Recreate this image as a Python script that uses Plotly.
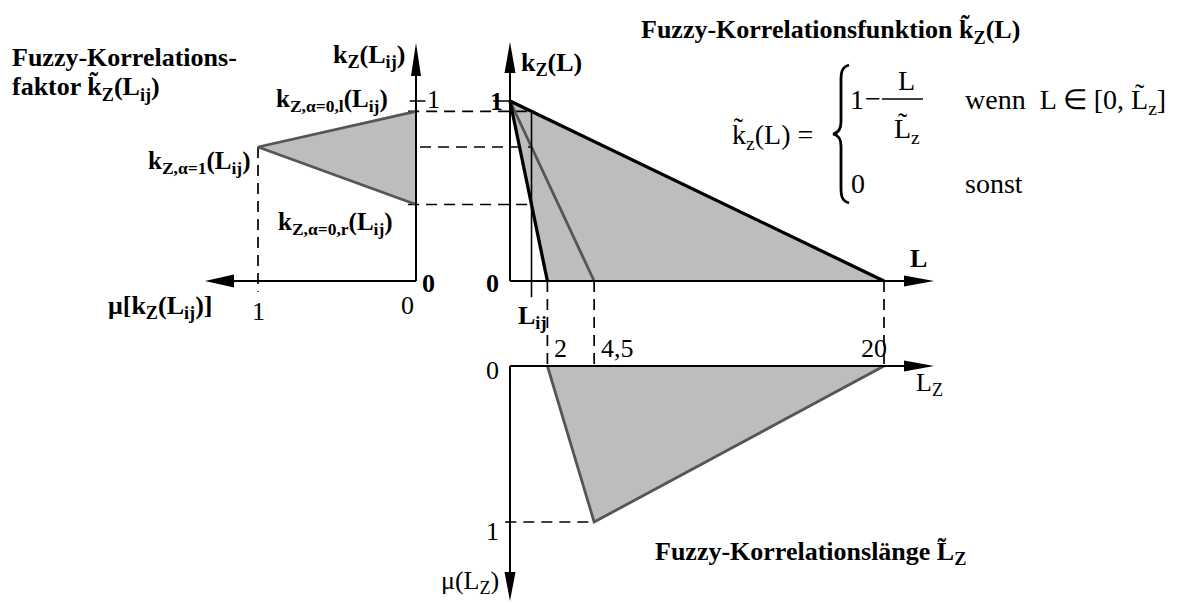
import plotly.graph_objects as go

W, H = 1185, 603

# triangular fuzzy correlation length L~_Z: (left, mode, right) and membership
Lz_support = [2.0, 4.5, 20.0]
Lz_membership = [0.0, 1.0, 0.0]
Lz_tick_labels = ["2", "4,5", "20"]
# distance between the two points i and j
L_ij = 1.15

Lz_left, Lz_mode, Lz_right = Lz_support


def k_of(L, Lz):
    """Correlation function k_z(L) = 1 - L/L_z on [0, L_z]."""
    return max(0.0, 1.0 - L / Lz)


# correlation factor at L_ij for the three characteristic lengths
k_l = k_of(L_ij, Lz_right)      # alpha=0, left bound
k_m = k_of(L_ij, Lz_mode)       # alpha=1
k_r = k_of(L_ij, Lz_left)       # alpha=0, right bound
kij_values = [k_l, k_m, k_r]
kij_membership = [0.0, 1.0, 0.0]

# page layout of the three coordinate systems (pixels)
X0_MAIN, Y0_MAIN = 510, 281     # L = 0, k = 0
Y0_LOW = 366                    # mu(L_Z) = 0
X0_LEFT = 416                   # mu[k] = 0
SX_L, SY_K, SY_MU, SX_MU = 18.7, 180.0, 156.0, 158.0

FILL = "#bdbdbd"
GREY = "#555555"
FONT = "Liberation Serif"


def L_from_left_mu(mu):
    return (X0_LEFT - SX_MU * mu - X0_MAIN) / SX_L


def k_from_low_mu(mu):
    return (Y0_MAIN - (Y0_LOW + SY_MU * mu)) / SY_K


fig = go.Figure()


def line(x, y, color="black", width=2.0, dash=None, xa="x", ya="y"):
    fig.add_trace(go.Scatter(x=x, y=y, mode="lines", xaxis=xa, yaxis=ya,
                             line=dict(color=color, width=width, dash=dash),
                             hoverinfo="skip", showlegend=False))


def poly(x, y, color, xa="x", ya="y"):
    fig.add_trace(go.Scatter(x=list(x) + [x[0]], y=list(y) + [y[0]], mode="lines",
                             fill="toself", fillcolor=color, xaxis=xa, yaxis=ya,
                             line=dict(width=0, color=color),
                             hoverinfo="skip", showlegend=False))


def arrow(tip, horizontal, s_along, s_perp, length=30, half=5.5, xa="x", ya="y"):
    tx, ty = tip
    if horizontal:
        bx = tx - length / s_along
        xs, ys = [tx, bx, bx], [ty, ty + half / s_perp, ty - half / s_perp]
    else:
        by = ty - length / s_along
        xs, ys = [tx, tx + half / s_perp, tx - half / s_perp], [ty, by, by]
    poly(xs, ys, "black", xa, ya)


DASH = "11px,7px"
DW = 1.7

# ---- fills ---------------------------------------------------------------
poly([0, Lz_left, Lz_right], [1, 0, 0], FILL)
poly(Lz_support, Lz_membership, FILL, ya="y2")
poly(kij_membership, kij_values, FILL, xa="x2")

# ---- dashed projection lines -------------------------------------------
line([L_from_left_mu(0.05), L_ij], [k_l, k_l], width=DW, dash=DASH)
line([L_from_left_mu(1.0), L_ij], [k_m, k_m], width=DW, dash=DASH)
line([L_from_left_mu(0.05), L_ij], [k_r, k_r], width=DW, dash=DASH)
line([1, 1], [k_m, -0.06], width=DW, dash=DASH, xa="x2")
for Lz, mu in zip(Lz_support, Lz_membership):
    line([Lz, Lz], [0, k_from_low_mu(mu)], width=DW, dash=DASH)
line([-0.25, Lz_mode], [1, 1], width=DW, dash=DASH, ya="y2")

# ---- correlation functions ----------------------------------------------
line([0, Lz_mode], [1, 0], color=GREY, width=2.8)
line([Lz_left, 0, Lz_right], [0, 1, 0], color="black", width=3.3)
line([L_ij, L_ij], [k_l, -0.09], color="black", width=1.6)

# membership functions
line(Lz_support, Lz_membership, color=GREY, width=2.8, ya="y2")
line([0, 1, 0], kij_values, color=GREY, width=2.8, xa="x2")

# ---- axes ----------------------------------------------------------------
k_top = (Y0_MAIN - 42) / SY_K
L_tip = (934 - X0_MAIN) / SX_L
mu_low_tip = (601 - Y0_LOW) / SY_MU
k_top_left = (Y0_MAIN - 43) / SY_K
mu_left_tip = (X0_LEFT - 205) / SX_MU

line([0, 0], [0, k_top - 0.1])
line([0, L_tip - 1], [0, 0])
arrow((0, k_top), False, SY_K, SX_L, length=31, half=5.5)
arrow((L_tip, 0), True, SX_L, SY_K)

line([0, 0], [0, mu_low_tip - 0.1], ya="y2")
line([0, L_tip - 1], [0, 0], ya="y2")
arrow((0, mu_low_tip), False, SY_MU, SX_L, length=29, half=5.5, ya="y2")
arrow((L_tip, 0), True, SX_L, SY_MU, ya="y2")

line([0, 0], [0, k_top_left - 0.1], xa="x2")
line([0, mu_left_tip - 0.1], [0, 0], xa="x2")
arrow((0, k_top_left), False, SY_K, SX_MU, length=33, half=5, xa="x2")
arrow((mu_left_tip, 0), True, SX_MU, SY_K, length=29, half=6.5, xa="x2")

# ticks at k = 1
line([-0.9, 0], [1, 1], width=1.5)
line([0.04, -0.06], [1, 1], width=1.5, xa="x2")

# ---- text ----------------------------------------------------------------
anns = []


def txt(text, xp, yp, size=26, bold=True, xanchor="center"):
    if bold:
        text = "<b>" + text + "</b>"
    anns.append(dict(text=text, x=xp / W, y=1 - yp / H, xref="paper", yref="paper",
                     xanchor=xanchor, yanchor="middle", showarrow=False,
                     font=dict(family=FONT, size=size, color="black")))


def dtxt(text, x, y, xa, ya, size=26, bold=False, xanchor="center",
         yanchor="middle", xshift=0, yshift=0):
    if bold:
        text = "<b>" + text + "</b>"
    anns.append(dict(text=text, x=x, y=y, xref=xa, yref=ya, xanchor=xanchor,
                     yanchor=yanchor, xshift=xshift, yshift=yshift, showarrow=False,
                     font=dict(family=FONT, size=size, color="black")))


# titles
txt("Fuzzy-Korrelationsfunktion k\u0303<sub>Z</sub>(L)", 830, 32)
txt("Fuzzy-Korrelations-", 10, 57, xanchor="left")
txt("faktor k\u0303<sub>Z</sub>(L<sub>ij</sub>)", 10, 88, xanchor="left")
txt("Fuzzy-Korrelationsl\u00e4nge L\u0303<sub>Z</sub>", 810, 553)

# main system
dtxt("1", 0, 1, "x", "y", bold=True, xanchor="right", xshift=-5)
dtxt("0", 0, 0, "x", "y", bold=True, xanchor="right", xshift=-9, yshift=-2)
txt("k<sub>Z</sub>(L)", 551, 64)
txt("L", 918, 258)
dtxt("L<sub>ij</sub>", L_ij, -0.1, "x", "y", bold=True, yanchor="top")

# lower system
dtxt("0", 0, 0, "x", "y2", xanchor="right", xshift=-9, yshift=-4)
dtxt("1", 0, 1, "x", "y2", xanchor="right", xshift=-9, yshift=-9)
for Lz, lab in zip(Lz_support, Lz_tick_labels):
    if Lz == Lz_right:
        dtxt(lab, Lz, 0, "x", "y2", xanchor="center", yanchor="bottom", xshift=-10, yshift=1)
    else:
        dtxt(lab, Lz, 0, "x", "y2", xanchor="left", yanchor="bottom", xshift=5, yshift=1)
txt("L<sub>Z</sub>", 929, 384, bold=False)
txt("\u03bc(L<sub>Z</sub>)", 470, 582, bold=False)

# left system
txt("k<sub>Z</sub>(L<sub>ij</sub>)", 369, 56)
txt("k<sub>Z,\u03b1=0,l</sub>(L<sub>ij</sub>)", 332, 100, size=25)
txt("k<sub>Z,\u03b1=1</sub>(L<sub>ij</sub>)", 252, 162, size=25, xanchor="right")
txt("k<sub>Z,\u03b1=0,r</sub>(L<sub>ij</sub>)", 335, 224, size=25)
txt("1", 433, 99, bold=False)
txt("0", 428, 283, bold=True)
txt("0", 407, 305, bold=False)
dtxt("1", 1, 0, "x2", "y", xanchor="center", yanchor="top", yshift=-14)
txt("\u03bc[k<sub>Z</sub>(L<sub>ij</sub>)]", 160, 307)

# formula
FS = 28
txt("k\u0303<sub>z</sub>(L) =", 772, 136, size=FS, bold=False)
txt("1", 857, 99, size=FS, bold=False)
txt("\u2212", 873, 98, size=FS, bold=False)
txt("L", 906, 81, size=FS, bold=False)
txt("L\u0303<sub>z</sub>", 907, 130, size=FS, bold=False)
txt("wenn  L \u2208 [0, L\u0303<sub>z</sub>]", 963, 101, size=FS, bold=False, xanchor="left")
txt("0", 858, 184, size=FS, bold=False)
txt("sonst", 963, 184, size=FS, bold=False, xanchor="left")


def P(xp, yp):
    return f"{xp / W:.5f},{1 - yp / H:.5f}"


shapes = [
    # fraction bar
    dict(type="line", xref="paper", yref="paper", x0=882 / W, x1=923 / W,
         y0=1 - 99 / H, y1=1 - 99 / H, line=dict(color="black", width=1.5)),
    # curly brace
    dict(type="path", xref="paper", yref="paper",
         path=(f"M {P(849, 65)} C {P(842, 67)} {P(841, 72)} {P(841, 80)} "
               f"L {P(841, 122)} C {P(841, 129)} {P(838, 133)} {P(833, 134)} "
               f"C {P(838, 135)} {P(841, 139)} {P(841, 146)} "
               f"L {P(841, 188)} C {P(841, 196)} {P(842, 201)} {P(849, 203)}"),
         line=dict(color="black", width=2.8)),
]

fig.update_layout(
    width=W, height=H, margin=dict(l=0, r=0, t=0, b=0), autosize=False,
    paper_bgcolor="white", plot_bgcolor="white", showlegend=False,
    xaxis=dict(range=[-X0_MAIN / SX_L, (W - X0_MAIN) / SX_L], visible=False, domain=[0, 1]),
    yaxis=dict(range=[(Y0_MAIN - H) / SY_K, Y0_MAIN / SY_K], visible=False, domain=[0, 1]),
    yaxis2=dict(range=[(H - Y0_LOW) / SY_MU, -Y0_LOW / SY_MU], visible=False,
                overlaying="y", anchor="x"),
    xaxis2=dict(range=[X0_LEFT / SX_MU, (X0_LEFT - W) / SX_MU], visible=False,
                overlaying="x", anchor="y"),
    annotations=anns, shapes=shapes,
)

fig.write_html("out.html")
